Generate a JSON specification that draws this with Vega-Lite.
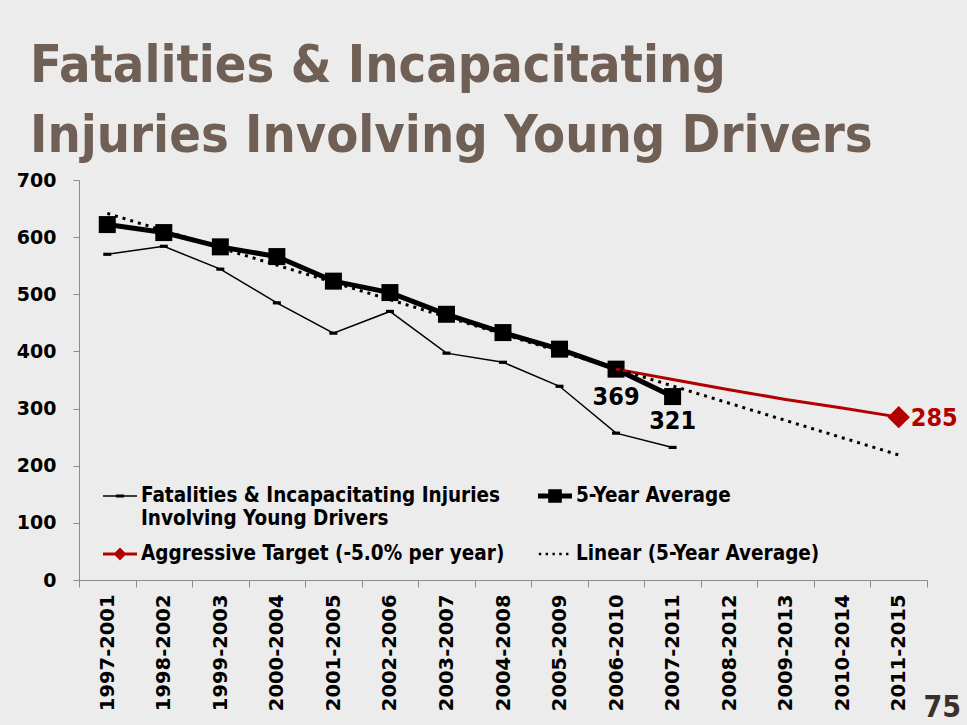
{
  "$schema": "https://vega.github.io/schema/vega-lite/v6.json",
  "width": 848,
  "height": 400,
  "autosize": {"type": "none"},
  "padding": {"left": 79, "top": 180, "right": 40, "bottom": 145},
  "background": "#ececec",
  "title": {
    "text": ["Fatalities & Incapacitating", "Injuries Involving Young Drivers"],
    "anchor": "start",
    "frame": "group",
    "dx": -49,
    "offset": 8,
    "font": "DejaVu Sans Condensed",
    "fontWeight": "bold",
    "fontSize": 52,
    "lineHeight": 70,
    "color": "#6f5f55"
  },
  "config": {
    "view": {"stroke": null},
    "axis": {"domainColor": "#8c8c8c", "tickColor": "#8c8c8c", "grid": false}
  },
  "data": {
    "values": [
      {"period": "1997-2001", "series": "Fatalities & Incapacitating Injuries Involving Young Drivers", "value": 570},
      {"period": "1998-2002", "series": "Fatalities & Incapacitating Injuries Involving Young Drivers", "value": 584},
      {"period": "1999-2003", "series": "Fatalities & Incapacitating Injuries Involving Young Drivers", "value": 544},
      {"period": "2000-2004", "series": "Fatalities & Incapacitating Injuries Involving Young Drivers", "value": 485},
      {"period": "2001-2005", "series": "Fatalities & Incapacitating Injuries Involving Young Drivers", "value": 432},
      {"period": "2002-2006", "series": "Fatalities & Incapacitating Injuries Involving Young Drivers", "value": 470},
      {"period": "2003-2007", "series": "Fatalities & Incapacitating Injuries Involving Young Drivers", "value": 397},
      {"period": "2004-2008", "series": "Fatalities & Incapacitating Injuries Involving Young Drivers", "value": 381},
      {"period": "2005-2009", "series": "Fatalities & Incapacitating Injuries Involving Young Drivers", "value": 339},
      {"period": "2006-2010", "series": "Fatalities & Incapacitating Injuries Involving Young Drivers", "value": 257},
      {"period": "2007-2011", "series": "Fatalities & Incapacitating Injuries Involving Young Drivers", "value": 232},
      {"period": "1997-2001", "series": "5-Year Average", "value": 622},
      {"period": "1998-2002", "series": "5-Year Average", "value": 608},
      {"period": "1999-2003", "series": "5-Year Average", "value": 583},
      {"period": "2000-2004", "series": "5-Year Average", "value": 566},
      {"period": "2001-2005", "series": "5-Year Average", "value": 523},
      {"period": "2002-2006", "series": "5-Year Average", "value": 503},
      {"period": "2003-2007", "series": "5-Year Average", "value": 465},
      {"period": "2004-2008", "series": "5-Year Average", "value": 433},
      {"period": "2005-2009", "series": "5-Year Average", "value": 404},
      {"period": "2006-2010", "series": "5-Year Average", "value": 369},
      {"period": "2007-2011", "series": "5-Year Average", "value": 321},
      {"period": "2006-2010", "series": "Aggressive Target (-5.0% per year)", "value": 369},
      {"period": "2007-2011", "series": "Aggressive Target (-5.0% per year)", "value": 351},
      {"period": "2008-2012", "series": "Aggressive Target (-5.0% per year)", "value": 333},
      {"period": "2009-2013", "series": "Aggressive Target (-5.0% per year)", "value": 316},
      {"period": "2010-2014", "series": "Aggressive Target (-5.0% per year)", "value": 301},
      {"period": "2011-2015", "series": "Aggressive Target (-5.0% per year)", "value": 285},
      {"period": "1997-2001", "series": "Linear (5-Year Average)", "value": 641.6},
      {"period": "1998-2002", "series": "Linear (5-Year Average)", "value": 611.4},
      {"period": "1999-2003", "series": "Linear (5-Year Average)", "value": 581.2},
      {"period": "2000-2004", "series": "Linear (5-Year Average)", "value": 551.0},
      {"period": "2001-2005", "series": "Linear (5-Year Average)", "value": 520.8},
      {"period": "2002-2006", "series": "Linear (5-Year Average)", "value": 490.6},
      {"period": "2003-2007", "series": "Linear (5-Year Average)", "value": 460.4},
      {"period": "2004-2008", "series": "Linear (5-Year Average)", "value": 430.2},
      {"period": "2005-2009", "series": "Linear (5-Year Average)", "value": 400.0},
      {"period": "2006-2010", "series": "Linear (5-Year Average)", "value": 369.8},
      {"period": "2007-2011", "series": "Linear (5-Year Average)", "value": 339.6},
      {"period": "2008-2012", "series": "Linear (5-Year Average)", "value": 309.4},
      {"period": "2009-2013", "series": "Linear (5-Year Average)", "value": 279.2},
      {"period": "2010-2014", "series": "Linear (5-Year Average)", "value": 249.0},
      {"period": "2011-2015", "series": "Linear (5-Year Average)", "value": 218.8}
    ]
  },
  "encoding": {
    "x": {
      "field": "period",
      "type": "ordinal",
      "bandPosition": 0.5,
      "scale": {
        "type": "band",
        "paddingInner": 0,
        "paddingOuter": 0,
        "domain": ["1997-2001", "1998-2002", "1999-2003", "2000-2004", "2001-2005", "2002-2006", "2003-2007", "2004-2008", "2005-2009", "2006-2010", "2007-2011", "2008-2012", "2009-2013", "2010-2014", "2011-2015"]
      },
      "axis": {
        "title": "75",
        "titleFont": "DejaVu Sans Condensed",
        "titleFontWeight": "bold",
        "titleFontSize": 30,
        "titleColor": "#3b312b",
        "titleAnchor": "start",
        "titleAlign": "left",
        "titleBaseline": "bottom",
        "titleX": 844,
        "titleY": 142,
        "labelAngle": -90,
        "labelAlign": "right",
        "labelBaseline": "middle",
        "labelFont": "DejaVu Sans",
        "labelFontWeight": "bold",
        "labelFontSize": 19.5,
        "labelColor": "black",
        "labelPadding": 7,
        "tickSize": 7,
        "tickBand": "extent"
      }
    },
    "y": {
      "field": "value",
      "type": "quantitative",
      "scale": {"domain": [0, 700]},
      "axis": {
        "title": null,
        "values": [0, 100, 200, 300, 400, 500, 600, 700],
        "labelFont": "DejaVu Sans",
        "labelFontWeight": "bold",
        "labelFontSize": 19,
        "labelColor": "black",
        "labelPadding": 17,
        "tickSize": 6
      }
    }
  },
  "layer": [
    {
      "transform": [{"filter": "datum.series == '5-Year Average'"}],
      "mark": {"type": "line", "color": "black", "strokeWidth": 5}
    },
    {
      "transform": [{"filter": "datum.series == '5-Year Average'"}],
      "mark": {"type": "point", "shape": "square", "filled": true, "color": "black", "size": 289, "opacity": 1}
    },
    {
      "transform": [{"filter": "datum.series == 'Fatalities & Incapacitating Injuries Involving Young Drivers'"}],
      "mark": {"type": "line", "color": "black", "strokeWidth": 1.5}
    },
    {
      "transform": [{"filter": "datum.series == 'Fatalities & Incapacitating Injuries Involving Young Drivers'"}],
      "mark": {"type": "point", "shape": "M-1,-0.4H1V0.4H-1Z", "filled": true, "color": "black", "size": 64, "opacity": 1}
    },
    {
      "transform": [{"filter": "datum.series == 'Aggressive Target (-5.0% per year)'"}],
      "mark": {"type": "line", "color": "#b20000", "strokeWidth": 3}
    },
    {
      "transform": [{"filter": "datum.series == 'Aggressive Target (-5.0% per year)' && datum.period == '2011-2015'"}],
      "mark": {"type": "point", "shape": "diamond", "filled": true, "color": "#b20000", "size": 500, "opacity": 1}
    },
    {
      "transform": [{"filter": "datum.series == 'Linear (5-Year Average)'"}],
      "mark": {"type": "line", "color": "black", "strokeWidth": 3, "strokeDash": [3, 5]}
    },
    {
      "transform": [{"filter": "datum.series == '5-Year Average' && datum.period == '2006-2010'"}],
      "mark": {"type": "text", "dy": 28, "font": "DejaVu Sans Condensed", "fontWeight": "bold", "fontSize": 25, "color": "black", "baseline": "middle"},
      "encoding": {"text": {"field": "value", "type": "quantitative"}}
    },
    {
      "transform": [{"filter": "datum.series == '5-Year Average' && datum.period == '2007-2011'"}],
      "mark": {"type": "text", "dy": 24, "font": "DejaVu Sans Condensed", "fontWeight": "bold", "fontSize": 25, "color": "black", "baseline": "middle"},
      "encoding": {"text": {"field": "value", "type": "quantitative"}}
    },
    {
      "transform": [{"filter": "datum.series == 'Aggressive Target (-5.0% per year)' && datum.period == '2011-2015'"}],
      "mark": {"type": "text", "dx": 12, "dy": 1, "align": "left", "font": "DejaVu Sans Condensed", "fontWeight": "bold", "fontSize": 25, "color": "#b20000", "baseline": "middle"},
      "encoding": {"text": {"field": "value", "type": "quantitative"}}
    },
    {
      "transform": [{"filter": "datum.value < 0"}],
      "mark": {"type": "point", "filled": true, "opacity": 1},
      "encoding": {
        "color": {
          "field": "series",
          "type": "nominal",
          "scale": {
            "domain": ["Fatalities & Incapacitating Injuries Involving Young Drivers", "5-Year Average", "Aggressive Target (-5.0% per year)", "Linear (5-Year Average)"],
            "range": ["black", "black", "#b20000", "black"]
          },
          "legend": {
            "title": null,
            "orient": "none",
            "legendX": 24,
            "legendY": 299,
            "direction": "horizontal",
            "columns": 2,
            "columnPadding": 33,
            "rowPadding": 8,
            "symbolSize": 1156,
            "symbolStrokeWidth": 0,
            "symbolOpacity": 1,
            "labelFont": "DejaVu Sans Condensed",
            "labelFontWeight": "bold",
            "labelFontSize": 20.5,
            "labelColor": "black",
            "labelOffset": 4,
            "labelLimit": 0,
            "labelExpr": "datum.value == 'Fatalities & Incapacitating Injuries Involving Young Drivers' ? ['Fatalities & Incapacitating Injuries', 'Involving Young Drivers'] : datum.value == '5-Year Average' ? ['5-Year Average', ' '] : datum.label"
          }
        },
        "shape": {
          "field": "series",
          "type": "nominal",
          "scale": {
            "domain": ["Fatalities & Incapacitating Injuries Involving Young Drivers", "5-Year Average", "Aggressive Target (-5.0% per year)", "Linear (5-Year Average)"],
            "range": [
              "M-1,-0.045H1V0.045H-1Z M-0.24,-0.09H0.24V0.09H-0.24Z",
              "M-1,-0.15H1V0.15H-1Z M-0.4,-0.4H0.4V0.4H-0.4Z",
              "M-1,-0.09H1V0.09H-1Z M-0.38,0L0,-0.38L0.38,0L0,0.38Z",
              "M-0.95,-0.07h0.14v0.14h-0.14Z M-0.55,-0.07h0.14v0.14h-0.14Z M-0.15,-0.07h0.14v0.14h-0.14Z M0.25,-0.07h0.14v0.14h-0.14Z M0.65,-0.07h0.14v0.14h-0.14Z"
            ]
          }
        }
      }
    }
  ]
}
